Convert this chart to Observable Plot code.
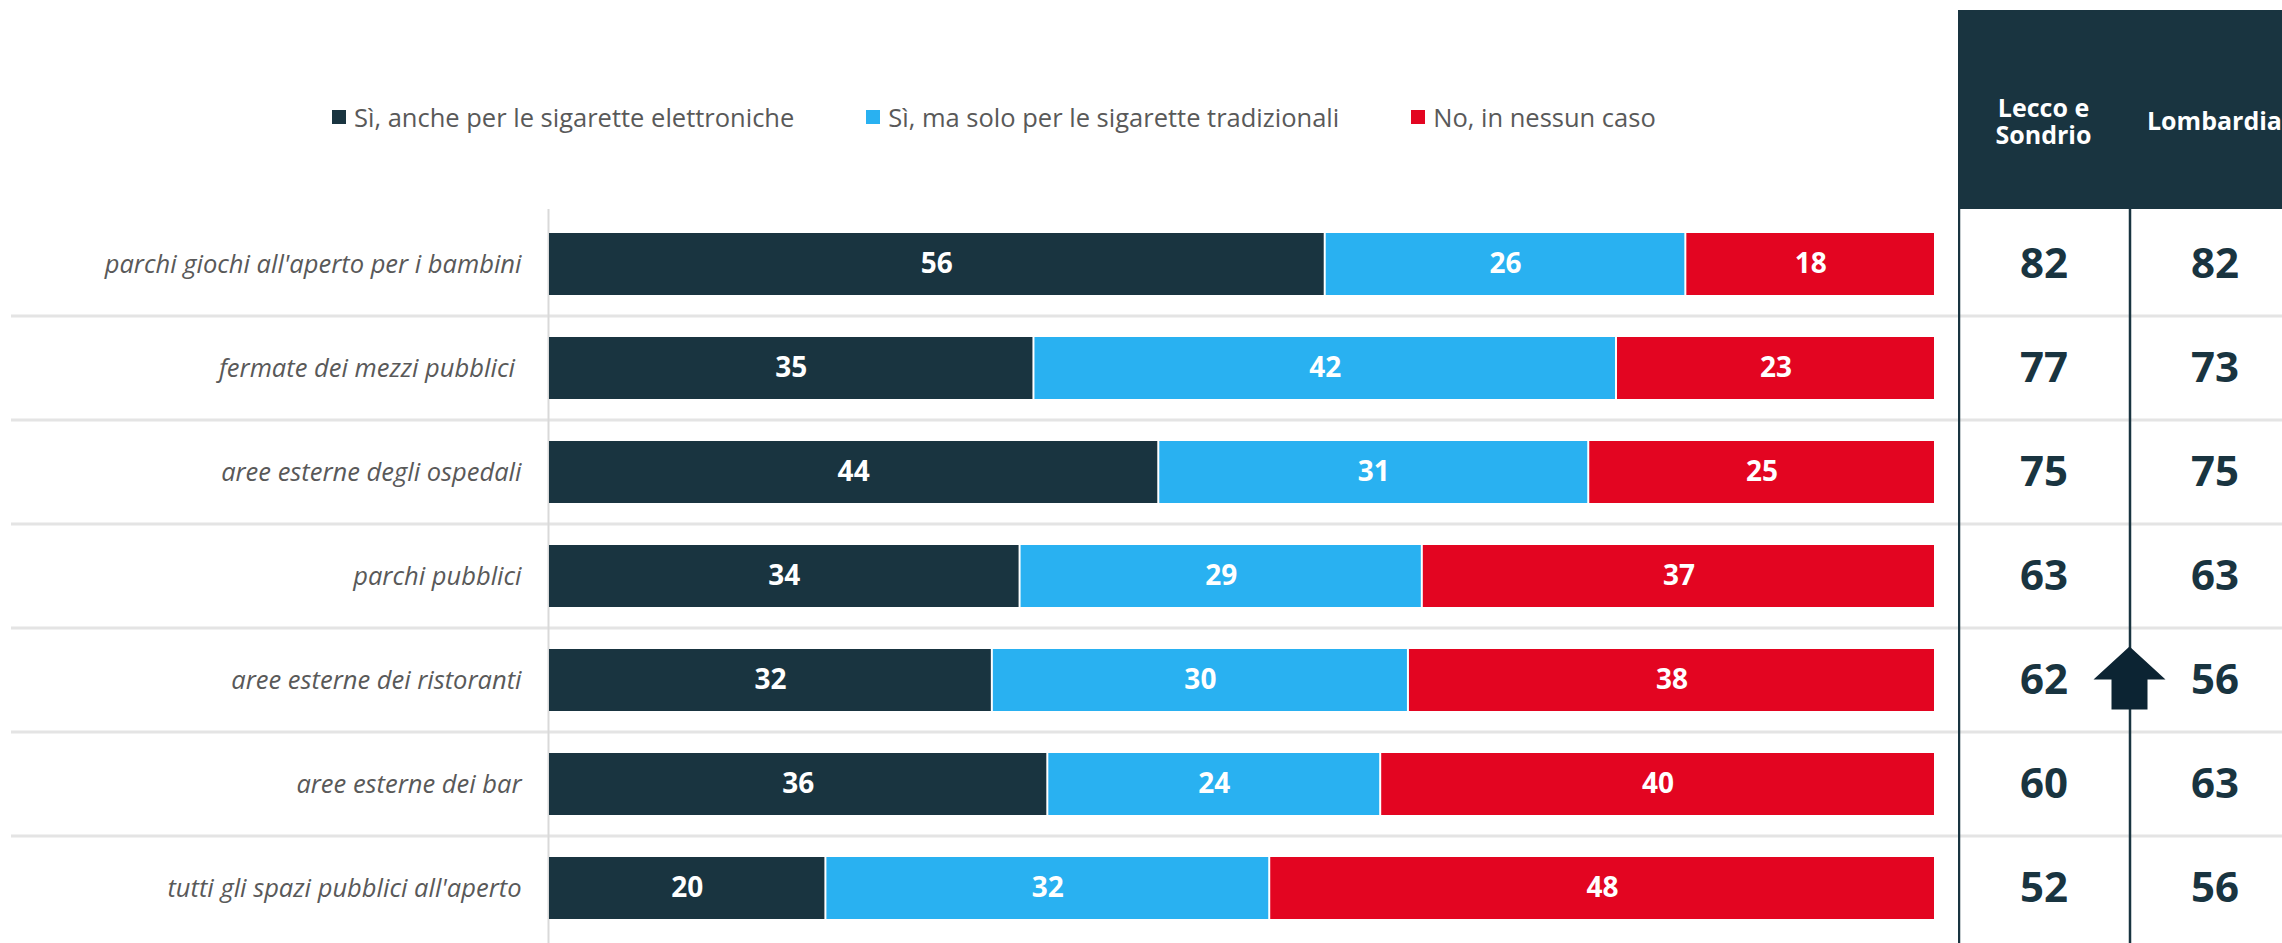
<!DOCTYPE html>
<html><head><meta charset="utf-8">
<script src="https://cdn.jsdelivr.net/npm/d3@7"></script>
<script src="https://cdn.jsdelivr.net/npm/@observablehq/plot@0.6"></script>
<style>
html,body{margin:0;padding:0;background:#fff;}
#root{position:relative;width:2282px;height:943px;overflow:hidden;font-family:'Open Sans',sans-serif;}
#legend{position:absolute;left:332px;top:100px;height:34px;display:flex;align-items:center;gap:72px;font-size:25.5px;color:#595959;}
.item{display:flex;align-items:center;white-space:nowrap;}
.sw{width:14px;height:14px;margin-right:8px;flex:none;}
.layer{position:absolute;top:0;}
.layer svg{max-width:none !important;}
#header{position:absolute;left:1958px;top:10px;height:199px;width:342px;background:#193440;display:flex;}
.hcell{width:171px;display:flex;align-items:center;justify-content:center;text-align:center;color:#fff;font-weight:700;font-size:25px;line-height:27px;padding-top:22px;box-sizing:border-box;}
#chart svg [aria-label="y-axis tick label"] text, #chart svg [aria-label="y-axis"] text{font-style:italic;}
</style></head><body><div id="root"></div>
<script>
const categories = [
  "parchi giochi all'aperto per i bambini",
  "fermate dei mezzi pubblici\u00a0",
  "aree esterne degli ospedali",
  "parchi pubblici",
  "aree esterne dei ristoranti",
  "aree esterne dei bar",
  "tutti gli spazi pubblici all'aperto"
];
const seriesNames = [
  "Sì, anche per le sigarette elettroniche",
  "Sì, ma solo per le sigarette tradizionali",
  "No, in nessun caso"
];
const seriesColors = ["#193440", "#29b1f1", "#e30521"];
const siElettroniche = [56, 35, 44, 34, 32, 36, 20];
const siTradizionali = [26, 42, 31, 29, 30, 24, 32];
const noCaso = [18, 23, 25, 37, 38, 40, 48];
const tableColumns = ["Lecco e Sondrio", "Lombardia"];
const tableHeaders = ["Lecco e<br>Sondrio", "Lombardia"];
const lecco = [82, 77, 75, 63, 62, 60, 52];
const lombardia = [82, 73, 75, 63, 56, 63, 56];
const arrowUp = ["aree esterne dei ristoranti"];

const root = document.getElementById("root");

const rows = [];
categories.forEach((c, i) => {
  [siElettroniche, siTradizionali, noCaso].forEach((arr, k) => {
    rows.push({cat: c, series: seriesNames[k], value: arr[i]});
  });
});
const tableRows = [];
categories.forEach((c, i) => {
  tableRows.push({cat: c, col: tableColumns[0], val: lecco[i]});
  tableRows.push({cat: c, col: tableColumns[1], val: lombardia[i]});
});

function separators(x1) {
  return (index, scales, values, dims) => {
    const y = scales.y;
    const step = y.step(), bw = y.bandwidth();
    const g = d3.create("svg:g");
    categories.slice(1).forEach(c => {
      const yy = y(c) - (step - bw) / 2;
      g.append("line").attr("x1", x1).attr("x2", dims.width)
        .attr("y1", yy).attr("y2", yy)
        .attr("stroke", "#e4e4e4").attr("stroke-width", 3);
    });
    return g.node();
  };
}

const chart = Plot.plot({
  width: 1958,
  height: 943,
  marginTop: 209,
  marginBottom: 0,
  marginLeft: 548,
  marginRight: 23,
  style: {fontFamily: "'Open Sans', sans-serif", fontSize: "25.5px", color: "#595959", background: "transparent", maxWidth: "none"},
  x: {domain: [0, 100], axis: null},
  y: {type: "band", domain: categories, paddingInner: 0.4, paddingOuter: 0.2, tickSize: 0, tickPadding: 27, label: null},
  color: {domain: seriesNames, range: seriesColors},
  marks: [
    separators(11),
    Plot.ruleX([0], {stroke: "#d9d9d9", strokeWidth: 2}),
    Plot.barX(rows, Plot.stackX({x: "value", y: "cat", fill: "series", insetLeft: 1, insetRight: 1})),
    Plot.text(rows, Plot.stackX({x: "value", y: "cat", text: d => String(d.value), fill: "white", fontSize: 28, fontWeight: 700}))
  ]
});
const chartDiv = document.createElement("div");
chartDiv.id = "chart"; chartDiv.className = "layer"; chartDiv.style.left = "0px";
chartDiv.appendChild(chart);
root.appendChild(chartDiv);

const arrowSymbol = {
  draw(ctx) {
    ctx.moveTo(0, -34);
    ctx.lineTo(36, -1);
    ctx.lineTo(18, -1);
    ctx.lineTo(18, 29);
    ctx.lineTo(-18, 29);
    ctx.lineTo(-18, -1);
    ctx.lineTo(-36, -1);
    ctx.closePath();
  }
};
const colLines = (index, scales, values, dims) => {
  const x = scales.x;
  const g = d3.create("svg:g");
  tableColumns.forEach(c => {
    const xx = x(c) + 1;
    g.append("line").attr("x1", xx).attr("x2", xx)
      .attr("y1", dims.marginTop).attr("y2", dims.height)
      .attr("stroke", "#193440").attr("stroke-width", 2.5);
  });
  return g.node();
};
const table = Plot.plot({
  width: 342,
  height: 943,
  marginTop: 209,
  marginBottom: 0,
  marginLeft: 0,
  marginRight: 0,
  style: {fontFamily: "'Open Sans', sans-serif", background: "transparent", maxWidth: "none"},
  x: {type: "band", domain: tableColumns, padding: 0, axis: null},
  y: {type: "band", domain: categories, padding: 0, axis: null},
  marks: [
    separators(0),
    colLines,
    Plot.text(tableRows, {x: "col", y: "cat", text: d => String(d.val), fontSize: 42, fontWeight: 700, fill: "#193440"}),
    Plot.dot(arrowUp, {y: d => d, symbol: arrowSymbol, fill: "#0c2433", stroke: "none", r: 10})
  ]
});
const tableDiv = document.createElement("div");
tableDiv.className = "layer"; tableDiv.style.left = "1958px"; tableDiv.style.width = "342px";
tableDiv.appendChild(table);
root.appendChild(tableDiv);

const header = document.createElement("div");
header.id = "header";
tableHeaders.forEach(h => {
  const c = document.createElement("div");
  c.className = "hcell";
  c.innerHTML = h;
  header.appendChild(c);
});
root.appendChild(header);

const legend = document.createElement("div");
legend.id = "legend";
seriesNames.forEach((s, i) => {
  const it = document.createElement("div");
  it.className = "item";
  const sw = document.createElement("div");
  sw.className = "sw";
  sw.style.background = seriesColors[i];
  const t = document.createElement("span");
  t.textContent = s;
  it.appendChild(sw); it.appendChild(t);
  legend.appendChild(it);
});
root.appendChild(legend);
</script>
</body></html>
